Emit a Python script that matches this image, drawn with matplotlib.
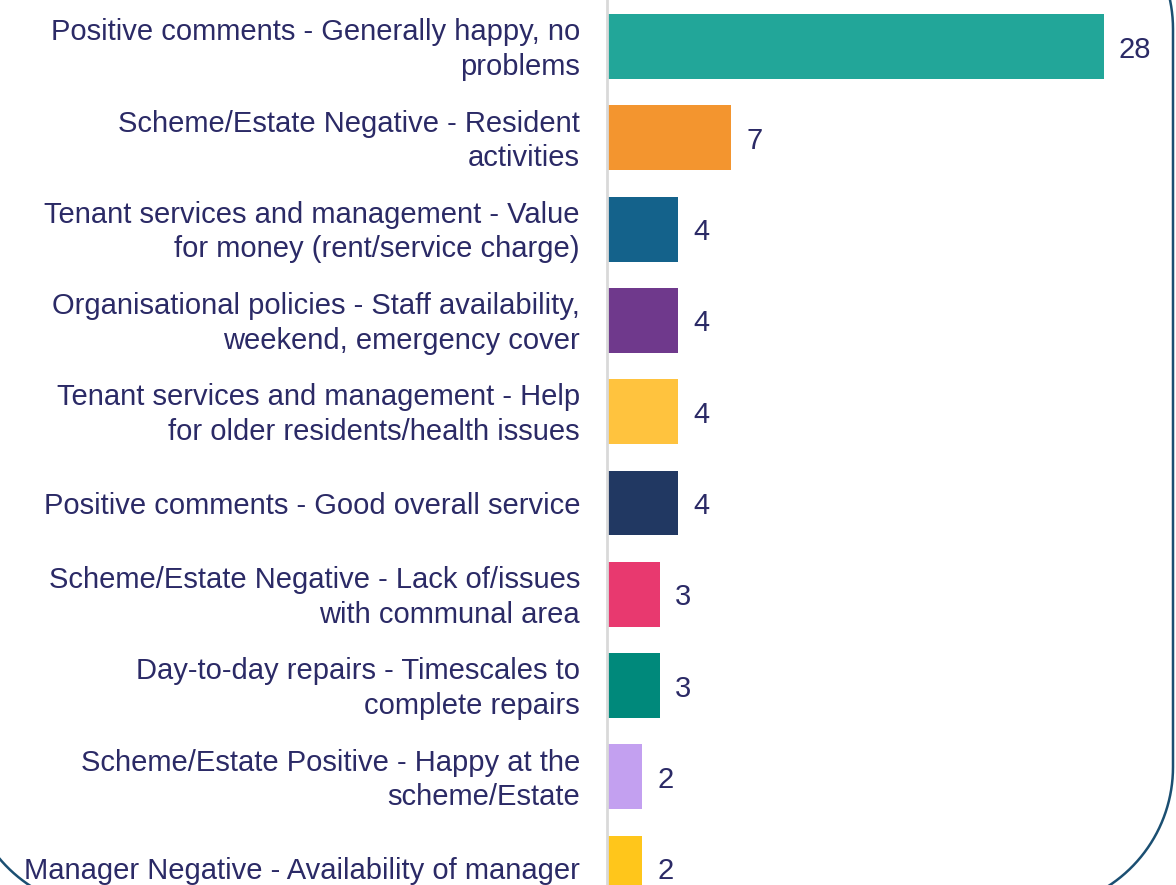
import numpy as np
import matplotlib.pyplot as plt

categories = [
    "Positive comments - Generally happy, no\nproblems",
    "Scheme/Estate Negative - Resident\nactivities",
    "Tenant services and management - Value\nfor money (rent/service charge)",
    "Organisational policies - Staff availability,\nweekend, emergency cover",
    "Tenant services and management - Help\nfor older residents/health issues",
    "Positive comments - Good overall service",
    "Scheme/Estate Negative - Lack of/issues\nwith communal area",
    "Day-to-day repairs - Timescales to\ncomplete repairs",
    "Scheme/Estate Positive - Happy at the\nscheme/Estate",
    "Manager Negative - Availability of manager",
]
counts = [28, 7, 4, 4, 4, 4, 3, 3, 2, 2]
colors = ["#22A699", "#F3952F", "#14628B", "#6F398C", "#FFC33E",
          "#213862", "#E8396F", "#00897B", "#C3A0F0", "#FFC61B"]

text_color = "#2B2A66"
plt.rcParams['font.family'] = ['Liberation Sans', 'DejaVu Sans']

W, H = 1176, 885
fig = plt.figure(figsize=(W / 100, H / 100), dpi=100)

# decorative rounded border drawn in pixel coords behind everything
bg = fig.add_axes([0, 0, 1, 1], zorder=-1)
bg.set_xlim(0, W)
bg.set_ylim(H, 0)
bg.axis('off')
x0, x1, y0, y1, r = -34, 1173, -113, 909, 142
t = np.linspace(0, np.pi / 2, 40)
px = np.concatenate([x1 - r + r * np.sin(t), x1 - r + r * np.cos(t),
                     x0 + r - r * np.sin(t), x0 + r - r * np.cos(t)])
py = np.concatenate([y0 + r - r * np.cos(t), y1 - r + r * np.sin(t),
                     y1 - r + r * np.cos(t), y0 + r - r * np.sin(t)])
bg.plot(np.append(px, px[0]), np.append(py, py[0]), color="#1B4F72", lw=1.8)

# bars area: x from 607 px to right edge
ax = fig.add_axes([607 / W, 0, 1 - 607 / W, 1])
ax.patch.set_alpha(0)
y = list(range(len(counts)))
ax.barh(y, counts, height=0.71, color=colors)
ax.set_xlim(0, (W - 608) / 17.71)
ax.set_ylim((H - 46.5) / 91.3, -46.5 / 91.3)

for i, v in enumerate(counts):
    ax.annotate(str(v), xy=(v, i), xytext=(15, -3), textcoords='offset pixels',
                va='center', ha='left', fontsize=21, color=text_color)

for i, lab in enumerate(categories):
    ax.annotate(lab, xy=(0, i), xytext=(-27, -3), textcoords='offset pixels',
                va='center', ha='right', multialignment='right',
                fontsize=21, color=text_color, linespacing=1.3,
                annotation_clip=False)

for s in ['top', 'right', 'bottom']:
    ax.spines[s].set_visible(False)
ax.spines['left'].set_color('#D9D9D9')
ax.spines['left'].set_linewidth(2)
ax.set_xticks([])
ax.set_yticks([])

fig.savefig("out.png", dpi=100)
